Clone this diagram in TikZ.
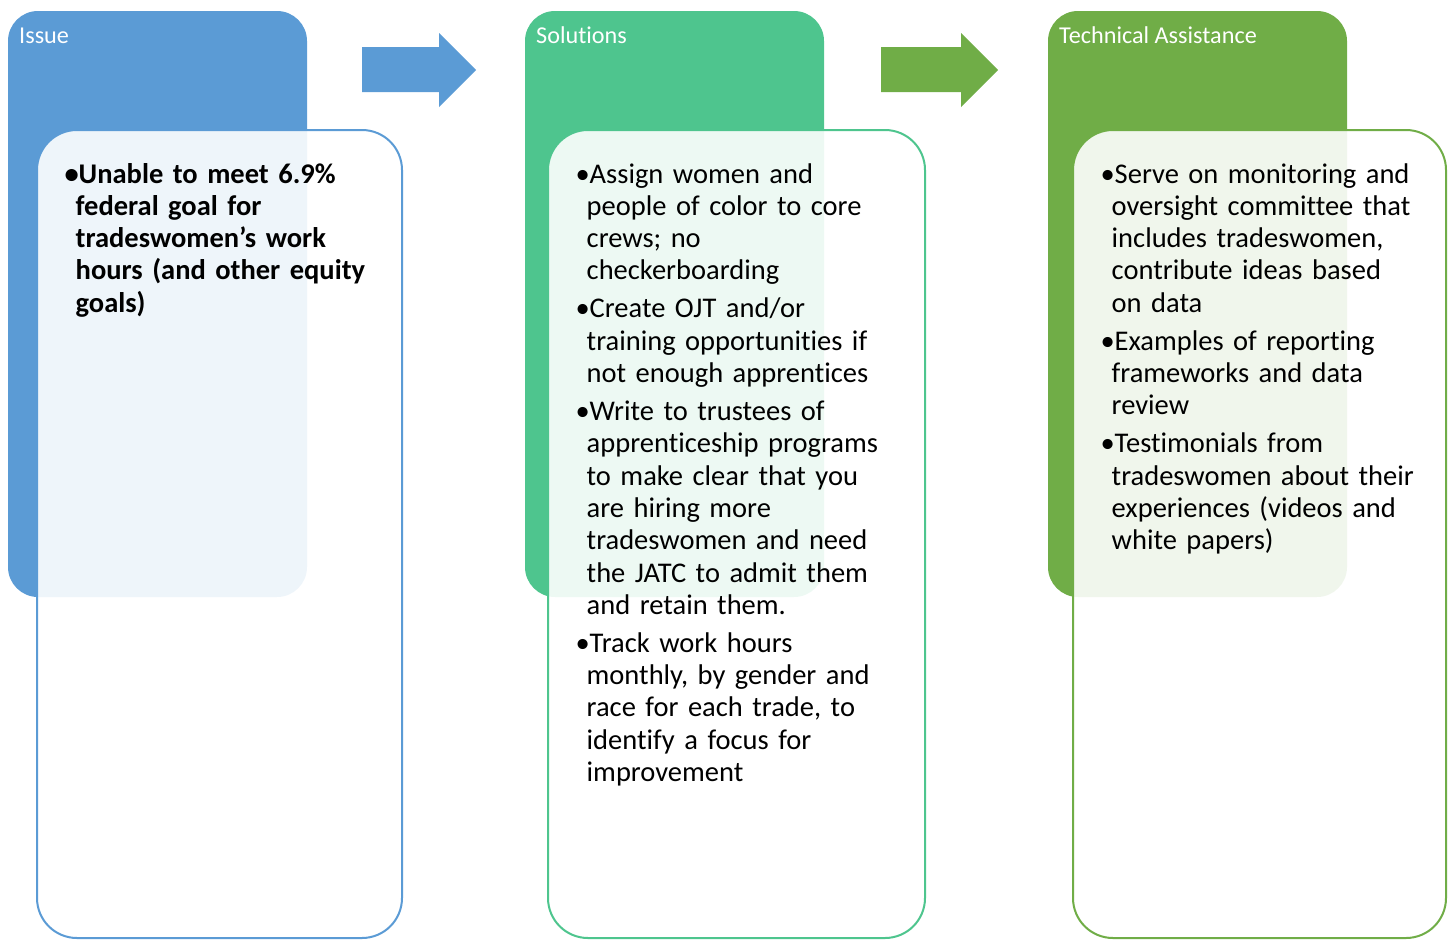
\documentclass[tikz,border=0pt]{standalone}
\usepackage{fontspec}
\setmainfont{Carlito}[Ligatures=NoCommon]
\definecolor{cblue}{HTML}{5B9BD5}
\definecolor{cmint}{HTML}{4EC58E}
\definecolor{cgreen}{HTML}{70AD47}
\newcommand{\bul}[1]{\noindent\hangindent=11pt\hangafter=1\makebox[14pt][l]{•}#1\par}
\newcommand{\bgap}{\vspace{5.7pt}}
\newcommand{\nl}{\newline}
\tikzset{
  header/.style={fill=#1, rounded corners=30pt, draw=none},
  textbox/.style={draw=#1, line width=2pt, fill=white, fill opacity=0.9, rounded corners=40pt},
  title/.style={anchor=base west, inner sep=0pt, text=white, font=\fontsize{24.2}{28}\selectfont},
  body/.style={anchor=base west, inner sep=0pt, text width=420pt, font=\fontsize{28.5}{32.3}\selectfont},
  bigarrow/.style={fill=#1, draw=none}
}
\begin{document}
\begin{tikzpicture}[x=1pt,y=-1pt]
\useasboundingbox (0,0) rectangle (1451,940);
% column 1
\fill[header=cblue] (8,11) rectangle (307,597);
\node[title] (t1) at (19,43) {Issue};
\draw[textbox=cblue] (37,130) rectangle (402,938);
\node[body, font=\fontsize{28.5}{32.3}\selectfont\bfseries] (b1) at (64.5,183) {%
\bul{Unable to meet 6.9\%\nl federal goal for\nl tradeswomen’s work\nl hours (and other equity\nl goals)}};
% column 2
\fill[header=cmint] (525,11) rectangle (824,597);
\node[title] (t2) at (536,43) {Solutions};
\draw[textbox=cmint] (548,130) rectangle (925,938);
\node[body] (b2) at (575.5,183) {%
\bul{Assign women and\nl people of color to core\nl crews; no\nl checkerboarding}\bgap
\bul{Create OJT and/or\nl training opportunities if\nl not enough apprentices}\bgap
\bul{Write to trustees of\nl apprenticeship programs\nl to make clear that you\nl are hiring more\nl tradeswomen and need\nl the JATC to admit them\nl and retain them.}\bgap
\bul{Track work hours\nl monthly, by gender and\nl race for each trade, to\nl identify a focus for\nl improvement}};
% column 3
\fill[header=cgreen] (1048,11) rectangle (1347,597);
\node[title] (t3) at (1059,43) {Technical Assistance};
\draw[textbox=cgreen] (1073,130) rectangle (1446,938);
\node[body] (b3) at (1100.5,183) {%
\bul{Serve on monitoring and\nl oversight committee that\nl includes tradeswomen,\nl contribute ideas based\nl on data}\bgap
\bul{Examples of reporting\nl frameworks and data\nl review}\bgap
\bul{Testimonials from\nl tradeswomen about their\nl experiences (videos and\nl white papers)}};
% arrows
\fill[bigarrow=cblue] (362,47) -- (439,47) -- (439,33) -- (476,70) -- (439,107) -- (439,92) -- (362,92) -- cycle;
\fill[bigarrow=cgreen] (881,47) -- (961,47) -- (961,33) -- (998,70) -- (961,107) -- (961,92) -- (881,92) -- cycle;
\end{tikzpicture}
\end{document}
